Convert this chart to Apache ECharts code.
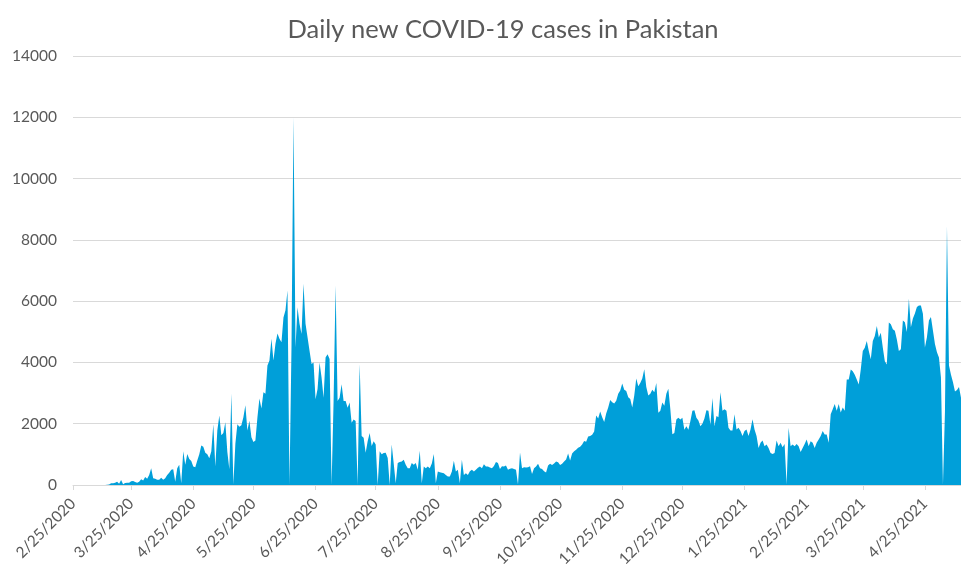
<!DOCTYPE html>
<html>
<head>
<meta charset="utf-8">
<script src="https://cdn.jsdelivr.net/npm/echarts@6/dist/echarts.min.js"></script>
<style>
html,body{margin:0;padding:0;background:#fff;}
#chart{width:961px;height:565px;}
</style>
</head>
<body>
<div id="chart"></div>
<script>
// First date of the series and number of daily points
var startDate = [2020, 2, 25]; // year, month, day
var dayCount = 444;

// Daily new cases, one value per day from 2/25/2020
var casesMarApr2020 = [
  0,0,0,0,0,0,0,0,0,0,1,0,0,1,2,3,4,8,
  20,55,60,75,110,44,165,22,66,70,77,120,130,95,77,110,190,150,260,200,330,550,
  220,200,175,175,240,175,220,330,400,500,510,110,550,660,55,1100,660,1010,850,780,
  600,580,800,1000,1290,1250,1050,1000,870,1100
];
var casesMayJun2020 = [
  1980,600,1780,2270,1620,1700,2050,1080,510,2990,20,1350,1980,1900,1950,2210,2600,1780,2100,1560,
  1400,1450,2200,2820,2500,3030,2980,3900,4060,4770,4060,4610,4940,4770,4660,5470,5700,6350,0,4500,
  12000,4490,5800,5260,4930,6570,5260,4820,4380,3950,4000,2800,3130,4000,3510,2850,4160,4270,4110,0
];
var casesJulAug2020 = [
  2740,6510,2740,2850,3290,2740,2740,2520,2690,2030,2140,2090,0,3950,1600,1540,1050,1430,1700,1270,
  1430,1320,0,1100,1000,1045,1050,880,0,1320,700,55,715,750,770,825,660,550,550,715,
  660,715,495,1120,55,605,550,605,550,700,1010,55,440,420,400,385,330,275,275,440
];
var casesSepOct2020 = [
  790,440,495,55,825,330,385,330,450,495,440,495,560,605,550,680,605,605,570,550,
  620,750,715,520,610,600,635,500,530,545,520,500,20,1060,545,580,570,580,610,355,
  545,600,690,545,520,450,410,635,690,655,700,770,745,655,690,770,835,1025,800,1025
];
var casesNovDec2020 = [
  1100,1150,1215,1250,1325,1435,1415,1580,1600,1640,1750,2270,2170,2395,2215,2060,2330,2530,2775,2700,
  2660,2750,2975,3085,3310,3110,3065,2865,2810,2530,2920,3475,3220,3330,3475,3775,3200,2920,2975,3110,
  3030,3330,2360,2420,2695,2585,2975,3140,2470,1660,1695,2140,2195,2140,2195,1805,1915,1805,2085,2420
];
var casesJanFeb2021 = [
  2440,2195,2105,1915,1995,2170,2440,2420,1970,2840,1915,2250,2215,3030,2420,2475,2420,1870,1780,1780,
  2310,1815,1870,1760,1595,1760,1815,1595,1815,2145,1815,1595,1210,1375,1450,1265,1320,1210,1045,1010,
  1045,1450,1265,1375,1230,1340,20,1870,1265,1320,1265,1340,1265,1080,1210,1340,1485,1265,1430,1375
];
var casesMarMay2021 = [
  1210,1375,1485,1595,1760,1650,1650,1375,2310,2475,2640,2420,2640,2365,2530,2420,3440,3440,3770,3715,
  3600,3440,3280,3770,4370,4480,4700,4370,4100,4700,4860,5190,4810,4970,4480,4040,3935,5300,5245,5080,
  5030,4750,4370,4430,5370,5310,4990,6080,5150,5430,5600,5810,5860,5860,5590,4490,4820,5370,5480,5040,
  4600,4330,4160,3510,0,2400,8440,3900,3600,3350,3050,3100,3200,2850
];

// Value axis ticks
var yTicks = [0,2000,4000,6000,8000,10000,12000,14000];

var cases = [].concat(casesMarApr2020, casesMayJun2020, casesJulAug2020, casesSepOct2020,
                      casesNovDec2020, casesJanFeb2021, casesMarMay2021);

var categories = [];
for (var i = 0; i < dayCount; i++) {
  var dt = new Date(Date.UTC(startDate[0], startDate[1] - 1, startDate[2] + i));
  categories.push((dt.getUTCMonth() + 1) + '/' + dt.getUTCDate() + '/' + dt.getUTCFullYear());
}
var isMonthMark = function (idx, val) {
  var v = val !== undefined ? val : categories[idx];
  return String(v).split('/')[1] === '25';
};

var chart = echarts.init(document.getElementById('chart'), null, {renderer: 'canvas'});
chart.setOption({
  animation: false,
  backgroundColor: '#ffffff',
  title: {
    text: 'Daily new COVID-19 cases in Pakistan',
    left: 498,
    textAlign: 'center',
    top: 12,
    textStyle: {fontFamily: 'Lato', fontSize: 25.5, fontWeight: 'normal', color: '#595959'}
  },
  grid: {left: 73, right: 0, top: 56, bottom: 80, containLabel: false, outerBoundsMode: 'none'},
  xAxis: {
    type: 'category',
    boundaryGap: false,
    data: categories,
    axisLine: {lineStyle: {color: '#d9d9d9', width: 1}},
    axisTick: {show: true, interval: isMonthMark, length: 5, lineStyle: {color: '#d9d9d9'}},
    axisLabel: {
      interval: isMonthMark,
      rotate: 45,
      margin: 16,
      fontFamily: 'Lato',
      fontSize: 15.5,
      color: '#595959'
    },
    splitLine: {show: false}
  },
  yAxis: {
    type: 'value',
    min: yTicks[0],
    max: yTicks[yTicks.length - 1],
    interval: yTicks[1] - yTicks[0],
    axisLine: {show: false},
    axisTick: {show: false},
    axisLabel: {
      margin: 16, fontFamily: 'Lato', fontSize: 15.5, color: '#595959',
      formatter: function (v) { return String(v); }
    },
    splitLine: {lineStyle: {color: '#d9d9d9', width: 1}}
  },
  series: [{
    type: 'line',
    data: cases,
    symbol: 'none',
    showSymbol: false,
    lineStyle: {width: 0, opacity: 0},
    areaStyle: {color: '#009fd9', opacity: 1},
    itemStyle: {color: '#009fd9'}
  }]
});
</script>
</body>
</html>
